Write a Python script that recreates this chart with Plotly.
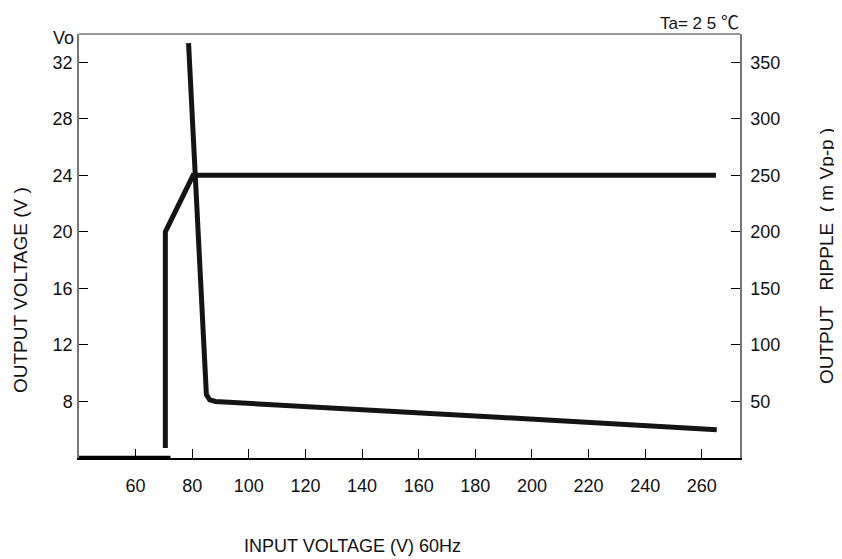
import plotly.graph_objects as go

# Output voltage (left axis, V)
vo_x = [70.5, 70.5, 80.3, 265]
vo_y = [4.7, 20, 24, 24]
# zero-output segment drawn along the bottom
zero_x = [40, 72.3]
zero_y = [4, 4]
# Output ripple (right axis, mVp-p)
rip_x = [78.7, 85.0, 86.2, 88.2, 188, 265.3]
rip_y = [367, 56, 51.5, 50, 36, 25]

x_ticks = [60, 80, 100, 120, 140, 160, 180, 200, 220, 240, 260]
yl_ticks = [8, 12, 16, 20, 24, 28, 32]
yr_ticks = [50, 100, 150, 200, 250, 300, 350]

FONT = "Liberation Sans, Arial, sans-serif"
LC = "#141414"
OFF = 8  # page body margin offset
W, H = 842 - OFF, 559 - OFF
# plot-area edges in page pixels
L, R, T, B = 79, 740, 34, 458

fig = go.Figure()
fig.add_trace(go.Scatter(x=zero_x, y=zero_y, mode="lines", cliponaxis=False,
                         line=dict(color="#000000", width=4.5), showlegend=False))
fig.add_trace(go.Scatter(x=vo_x, y=vo_y, mode="lines",
                         line=dict(color=LC, width=5), showlegend=False))
fig.add_trace(go.Scatter(x=rip_x, y=rip_y, mode="lines", yaxis="y2",
                         line=dict(color=LC, width=5), showlegend=False))

TF = dict(family=FONT, size=18, color="#111111")
fig.update_layout(
    width=W, height=H,
    margin=dict(l=L - OFF, r=842 - R, t=T - OFF, b=559 - B, autoexpand=False),
    paper_bgcolor="white", plot_bgcolor="white",
    font=dict(family=FONT, size=17, color="#111111"),
    xaxis=dict(range=[40, 273.5], tickvals=x_ticks, ticks="inside", ticklen=9,
               tickcolor="#000", showline=True, linecolor="#000", linewidth=1.5,
               showgrid=False, zeroline=False, ticklabelstandoff=11, automargin=False,
               tickfont=TF),
    yaxis=dict(range=[4, 34], tickvals=yl_ticks, ticks="inside", ticklen=9,
               tickcolor="#000", showline=True, linecolor="#777", linewidth=1.5,
               showgrid=False, zeroline=False, ticklabelstandoff=1, automargin=False,
               tickfont=TF),
    yaxis2=dict(range=[0, 375], tickvals=yr_ticks, ticks="inside", ticklen=9,
                tickcolor="#000", showline=True, linecolor="#777", linewidth=1.5,
                overlaying="y", side="right", showgrid=False, zeroline=False,
                ticklabelstandoff=5, automargin=False, tickfont=TF),
)

# top border
fig.add_shape(type="line", xref="paper", yref="paper", x0=0, x1=1, y0=1, y1=1,
              line=dict(color="#777", width=1.5))

ann = [
    dict(text="Vo", x=63, y=37.5, xanchor="center", size=18),
    dict(text="Ta= 2 5 <span style='font-family:Noto Sans CJK SC;font-size:18px'>℃</span>",
         x=741, y=21, xanchor="right", size=17),
    dict(text="INPUT VOLTAGE (V) 60Hz", x=352, y=546, xanchor="center", size=18),
    dict(text="OUTPUT VOLTAGE (V )", x=20, y=290, xanchor="center", textangle=-90, size=19),
    dict(text="OUTPUT   RIPPLE  ( m Vp-p )", x=826, y=256, xanchor="center", textangle=-90, size=19),
]
for a in ann:
    px, py = a.pop("x"), a.pop("y")
    sz = a.pop("size")
    fig.add_annotation(x=(px - L) / (R - L), y=(B - py) / (B - T),
                       xref="paper", yref="paper", yanchor="middle", showarrow=False,
                       font=dict(family=FONT, size=sz, color="#111"), **a)

fig.write_html("out.html")
